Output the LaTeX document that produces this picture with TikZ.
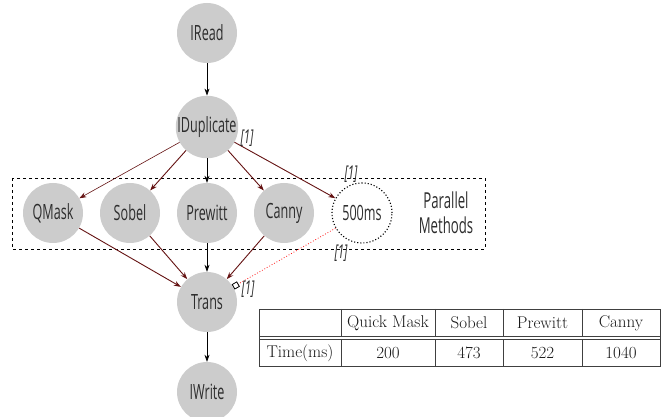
\documentclass[tikz,border=0pt]{standalone}
\usepackage{fontspec}
\newfontfamily\condfont[FakeStretch=0.6]{Open Sans}
\usetikzlibrary{arrows.meta}
\definecolor{nodegray}{RGB}{204,204,204}
\definecolor{txtgray}{RGB}{45,45,45}
\definecolor{maroon}{RGB}{100,18,18}
\begin{document}
\begin{tikzpicture}[x=1pt,y=-1pt,
  task/.style={circle,fill=nodegray,minimum size=60pt,inner sep=0pt,text=txtgray,font=\condfont\fontsize{21}{23}\selectfont},
  waitnode/.style={circle,draw=black,dotted,line width=1.1pt,minimum size=60pt,inner sep=0pt,text=txtgray,font=\condfont\fontsize{21}{23}\selectfont},
  blk/.style={-{Stealth[length=7pt,width=5pt]},black,line width=0.7pt},
  red/.style={-{Stealth[length=7pt,width=5pt]},maroon,line width=0.9pt},
  tag/.style={font=\condfont\itshape\fontsize{19}{21}\selectfont,text=txtgray,inner sep=0pt},
  cell/.style={font=\fontsize{17}{19}\selectfont,inner sep=0pt,text=black!90}]
\useasboundingbox (0,0) rectangle (665,417);
% dashed box
\draw[dashed,line width=0.5pt] (12,178) rectangle (485,249);
\node[font=\condfont\fontsize{22}{25}\selectfont,text=txtgray,align=center] (pm) at (446,213) {Parallel\\Methods};
% nodes
\node[task] (iread) at (207,33) {IRead};
\node[task] (idup) at (207,127) {IDuplicate};
\node[task] (qmask) at (53,213) {QMask};
\node[task] (sobel) at (130,213) {Sobel};
\node[task] (prewitt) at (207,213) {Prewitt};
\node[task] (canny) at (284,213) {Canny};
\node[waitnode] (wait) at (362,213) {500ms};
\node[task] (trans) at (207,302) {Trans};
\node[task] (iwrite) at (207,392) {IWrite};
% edges
\draw[blk] (iread) -- (idup);
\draw[red,line width=0.6pt] (idup) -- (qmask);
\draw[red] (idup) -- (sobel);
\draw[blk] (idup) -- (prewitt);
\draw[red] (idup) -- (canny);
\draw[red] (idup) -- (wait);
\draw[red] (qmask) -- (trans);
\draw[red] (sobel) -- (trans);
\draw[blk] (prewitt) -- (trans);
\draw[red] (canny) -- (trans);
\draw[red!90!white,dotted,line width=0.8pt,-{Square[open,length=6pt,width=6pt,black,line width=0.8pt]}] (wait) -- (trans);
\draw[blk] (trans) -- (iwrite);
% tags
\node[tag] (t1) at (247,138) {[1]};
\node[tag] (t2) at (351,174) {[1]};
\node[tag] (t3) at (341,253) {[1]};
\node[tag] (t4) at (248,289) {[1]};
% table
\draw[black!75,line width=0.8pt] (259,309) rectangle (660,366);
\draw[black!75,line width=0.8pt] (259,336) -- (660,336) (259,339.5) -- (660,339.5);
\foreach \xx in {341,435,503,582}{
  \draw[black!75,line width=0.8pt] (\xx,309) -- (\xx,336) (\xx,339.5) -- (\xx,366);
}
\node[cell] (h1) at (388,323) {Quick Mask};
\node[cell] (h2) at (469,323) {Sobel};
\node[cell] (h3) at (542.5,323) {Prewitt};
\node[cell] (h4) at (621,323) {Canny};
\node[cell] (r0) at (300,353) {Time(ms)};
\node[cell] (r1) at (388,353) {200};
\node[cell] (r2) at (469,353) {473};
\node[cell] (r3) at (542.5,353) {522};
\node[cell] (r4) at (621,353) {1040};
\end{tikzpicture}
\end{document}
